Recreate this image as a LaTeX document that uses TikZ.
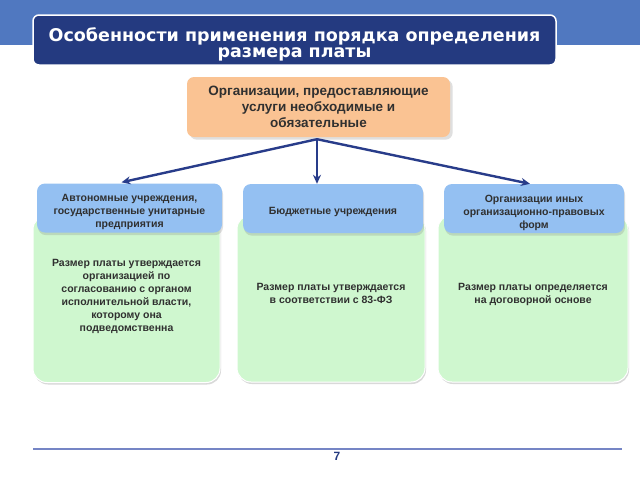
\documentclass[tikz,border=0pt]{standalone}
\usepackage{fontspec}
\setmainfont{Liberation Sans}
\newfontfamily\titlefont{DejaVu Sans}
\usetikzlibrary{arrows.meta,calc,shadows}
\definecolor{bandblue}{HTML}{5078C0}
\definecolor{titlenavy}{HTML}{243A80}
\definecolor{peach}{HTML}{FAC393}
\definecolor{hdrblue}{HTML}{94C0F2}
\definecolor{bodygreen}{HTML}{CFF7CF}
\definecolor{arrownavy}{HTML}{283C8A}
\definecolor{textdark}{HTML}{303030}
\definecolor{rulegray}{HTML}{7585C5}
% invisible struts to nudge text inside a box
\newcommand{\padtop}[1]{\rule{0pt}{#1}}
\newcommand{\padbot}[1]{\rule[-#1]{0pt}{0pt}}
\tikzset{
  titlebox/.style={draw=white, line width=1.5pt, fill=titlenavy, rounded corners=6pt,
    text=white, font=\titlefont\bfseries\fontsize{17.5}{16}\selectfont, align=center,
    minimum width=523, minimum height=50, inner sep=0pt},
  orgbox/.style={fill=peach, rounded corners=7pt, drop shadow={opacity=0.25},
    text=textdark, font=\bfseries\fontsize{13.5}{16}\selectfont, align=center,
    minimum width=263, minimum height=60, inner sep=0pt},
  hdrbox/.style={fill=hdrblue, rounded corners=8pt, drop shadow={opacity=0.25, shadow xshift=1pt},
    text=textdark, font=\bfseries\fontsize{10.5}{13}\selectfont, align=center,
    minimum height=49, inner sep=0pt},
  bodybox/.style={fill=bodygreen, draw=white, line width=1pt, rounded corners=14pt,
    drop shadow={opacity=0.3, shadow xshift=1pt, shadow yshift=-2pt},
    text=textdark, font=\bfseries\fontsize{10.5}{13}\selectfont, align=center,
    minimum height=167, inner sep=0pt},
  link/.style={draw=arrownavy, line width=2.4pt, -{Stealth[length=9pt,width=8pt]}}
}
\begin{document}
\begin{tikzpicture}[x=1pt,y=-1pt]
\useasboundingbox (0,0) rectangle (640,480);
\fill[bandblue] (0,0) rectangle (640,45);
% title
\node[titlebox] (title) at (294.5,40) {\padtop{22pt}Особенности применения порядка определения\\размера платы};
\node[orgbox] (org) at (318.5,107) {Организации, предоставляющие\\услуги необходимые и\\обязательные};
% bodies
\node[bodybox, minimum width=187] (bodyA) at (126.5,299) {Размер платы утверждается\\организацией по\\согласованию с органом\\исполнительной власти,\\которому она\\подведомственна\padbot{8pt}};
\node[bodybox, minimum width=188] (bodyB) at (331,298.5) {Размер платы утверждается\\в соответствии с 83-ФЗ\padbot{11pt}};
\node[bodybox, minimum width=190] (bodyC) at (533,298.5) {Размер платы определяется\\на договорной основе\padbot{11pt}};
% headers
\node[hdrbox, minimum width=185] (hdrA) at (129.5,208) {\padtop{15.5pt}Автономные учреждения,\\государственные унитарные\\предприятия};
\node[hdrbox, minimum width=180] (hdrB) at (333,208.5) {\padtop{14pt}Бюджетные учреждения};
\node[hdrbox, minimum width=180] (hdrC) at (534,208.5) {\padtop{15.5pt}Организации иных\\организационно-правовых\\форм};
% links
\coordinate (fork) at ($(org.south)+(-1.5,2)$);
\draw[link] (fork) -- ($(hdrA.north)+(-8,-1)$);
\draw[link] (fork) -- (fork |- hdrB.north);
\draw[link] (fork) -- ($(hdrC.north)+(-4,0)$);
% footer
\draw[rulegray, line width=1.2pt] (33,449) -- (622,449);
\node[text=titlenavy, font=\bfseries\fontsize{12}{12}\selectfont] (page) at (337,456) {7};
\end{tikzpicture}
\end{document}
